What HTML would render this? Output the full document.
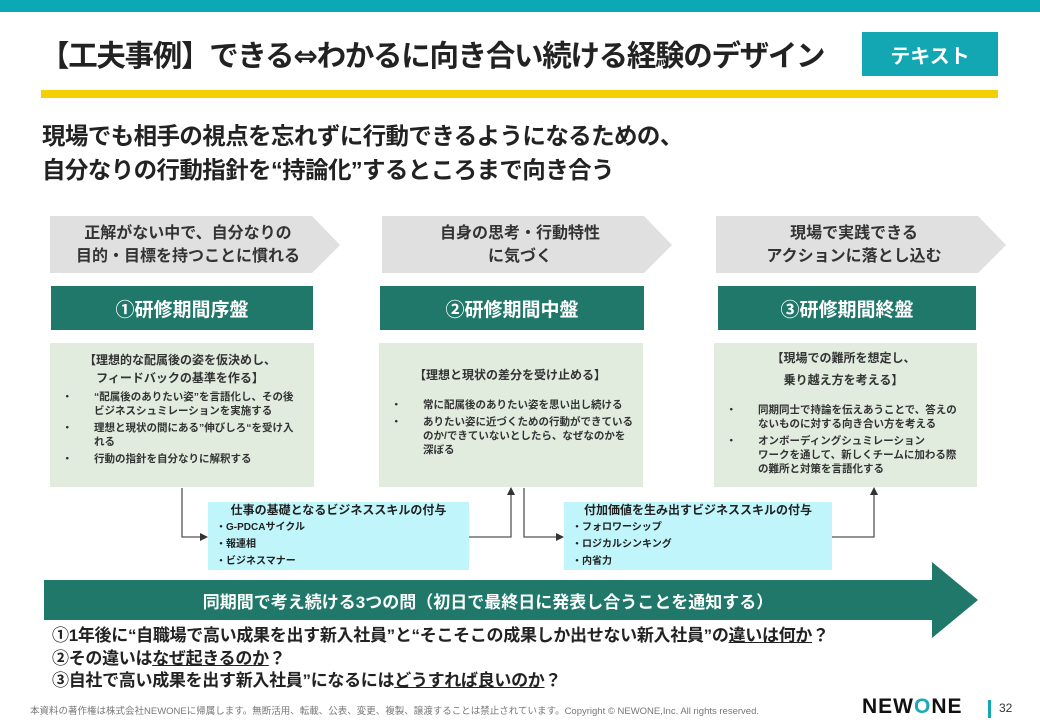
<!DOCTYPE html>
<html><head><meta charset="utf-8"><style>
*{margin:0;padding:0;box-sizing:border-box}
body{width:1040px;height:720px;background:#fff;position:relative;overflow:hidden;font-family:"Liberation Sans","Noto Sans CJK JP",sans-serif;color:#222}
.a{position:absolute}
.b{font-weight:bold}
.c{display:flex;align-items:center;justify-content:center;text-align:center}
.lg{background:#e1ecdf;font-size:10.5px;font-weight:bold;color:#333;line-height:14px}
.cy{background:#c0f6fb;font-size:10px;font-weight:bold;color:#222}
.dg{background:#1f7869;color:#fff;font-size:19px;font-weight:bold}
ul{list-style:none}
li{position:relative;padding-left:36px;margin-top:3px}
li:before{content:"・";position:absolute;left:4px}
</style></head><body>
<div class="a" style="left:0;top:0;width:1040px;height:12px;background:#0aa9b5"></div>
<div class="a b" style="left:40px;top:33px;font-size:29.5px;letter-spacing:-1.3px;white-space:nowrap">【工夫事例】できる<span style="font-family:'DejaVu Sans'">⇔</span>わかるに向き合い続ける経験のデザイン</div>
<div class="a c b" style="left:862px;top:32px;width:136px;height:44px;background:#13a7b3;color:#fff;font-size:20px">テキスト</div>
<div class="a" style="left:41px;top:90px;width:957px;height:8px;background:#f6cf00"></div>
<div class="a b" style="left:42px;top:119px;font-size:23.5px;line-height:34px;letter-spacing:-0.6px;white-space:nowrap">現場でも相手の視点を忘れずに行動できるようになるための、<br>自分なりの行動指針を“持論化”するところまで向き合う</div>

<svg class="a" style="left:0;top:0" width="1040" height="720">
<polygon points="50,216 312,216 340,245 312,273 50,273" fill="#e0e0e0"/>
<polygon points="382,216 644,216 672,245 644,273 382,273" fill="#e0e0e0"/>
<polygon points="716,216 978,216 1006,245 978,273 716,273" fill="#e0e0e0"/>
<g stroke="#555" stroke-width="1.3" fill="none">
<polyline points="182,488 182,537 202,537"/>
<polyline points="469,537 511,537 511,493"/>
<polyline points="524,488 524,537 558,537"/>
<polyline points="832,537 874,537 874,493"/>
</g>
<g fill="#333">
<polygon points="208,537 200,533 200,541"/>
<polygon points="511,487 507,495 515,495"/>
<polygon points="564,537 556,533 556,541"/>
<polygon points="874,487 870,495 878,495"/>
</g>
<polygon points="44,580 932,580 932,562 978,600 932,638 932,620 44,620" fill="#1f7869"/>
</svg>

<div class="a c b" style="left:50px;top:216px;width:276px;height:57px;font-size:16px;line-height:23px;color:#333">正解がない中で、自分なりの<br>目的・目標を持つことに慣れる</div>
<div class="a c b" style="left:382px;top:216px;width:276px;height:57px;font-size:16px;line-height:23px;color:#333">自身の思考・行動特性<br>に気づく</div>
<div class="a c b" style="left:716px;top:216px;width:276px;height:57px;font-size:16px;line-height:23px;color:#333">現場で実践できる<br>アクションに落とし込む</div>

<div class="a c dg" style="left:51px;top:286px;width:262px;height:44px">①研修期間序盤</div>
<div class="a c dg" style="left:380px;top:286px;width:264px;height:44px">②研修期間中盤</div>
<div class="a c dg" style="left:718px;top:286px;width:258px;height:44px">③研修期間終盤</div>

<div class="a lg" style="left:50px;top:343px;width:264px;height:144px;padding:8px 12px 0 8px">
<div style="text-align:center;font-size:12px;line-height:18px">【理想的な配属後の姿を仮決めし、<br>フィードバックの基準を作る】</div>
<ul><li>“配属後のありたい姿”を言語化し、その後ビジネスシュミレーションを実施する</li><li>理想と現状の間にある”伸びしろ“を受け入れる</li><li>行動の指針を自分なりに解釈する</li></ul></div>
<div class="a lg" style="left:379px;top:343px;width:264px;height:144px;padding:24px 10px 0 8px">
<div style="text-align:center;font-size:12px;line-height:17px;margin-bottom:14px">【理想と現状の差分を受け止める】</div>
<ul><li>常に配属後のありたい姿を思い出し続ける</li><li>ありたい姿に近づくための行動ができているのか/できていないとしたら、なぜなのかを深ぼる</li></ul></div>
<div class="a lg" style="left:714px;top:343px;width:263px;height:144px;padding:4px 12px 0 8px">
<div style="text-align:center;font-size:12px;line-height:22px;margin-bottom:12px">【現場での難所を想定し、<br>乗り越え方を考える】</div>
<ul><li>同期同士で持論を伝えあうことで、答えのないものに対する向き合い方を考える</li><li>オンボーディングシュミレーション<br>ワークを通して、新しくチームに加わる際の難所と対策を言語化する</li></ul></div>

<div class="a cy" style="left:208px;top:502px;width:261px;height:68px;padding:0 8px;line-height:17px">
<div style="font-size:12px;text-align:center">仕事の基礎となるビジネススキルの付与</div>
<div>・G-PDCAサイクル</div><div>・報連相</div><div>・ビジネスマナー</div></div>
<div class="a cy" style="left:564px;top:502px;width:268px;height:68px;padding:0 8px;line-height:17px">
<div style="font-size:12px;text-align:center">付加価値を生み出すビジネススキルの付与</div>
<div>・フォロワーシップ</div><div>・ロジカルシンキング</div><div>・内省力</div></div>

<div class="a c b" style="left:44px;top:580px;width:888px;height:40px;color:#fff;font-size:17px">同期間で考え続ける3つの問（初日で最終日に発表し合うことを通知する）</div>

<div class="a b" style="left:52px;top:625px;font-size:17px;line-height:22.5px;letter-spacing:-0.3px;white-space:nowrap">①1年後に“自職場で高い成果を出す新入社員”と“そこそこの成果しか出せない新入社員”の<u>違いは何か</u>？<br>②その違いは<u>なぜ起きるのか</u>？<br>③自社で高い成果を出す新入社員”になるには<u>どうすれば良いのか</u>？</div>

<div class="a" style="left:30px;top:703px;font-size:9.5px;color:#777;white-space:nowrap">本資料の著作権は株式会社NEWONEに帰属します。無断活用、転載、公表、変更、複製、譲渡することは禁止されています。Copyright © NEWONE,Inc.  All rights reserved.</div>
<div class="a b" style="left:862px;top:695px;font-size:21px;letter-spacing:1px;color:#111">NEW<span style="color:#1aa9b5">O</span>NE</div>
<div class="a" style="left:988px;top:700px;width:3px;height:18px;background:#13a7b3"></div>
<div class="a" style="left:999px;top:701px;font-size:12px;color:#333">32</div>
</body></html>
